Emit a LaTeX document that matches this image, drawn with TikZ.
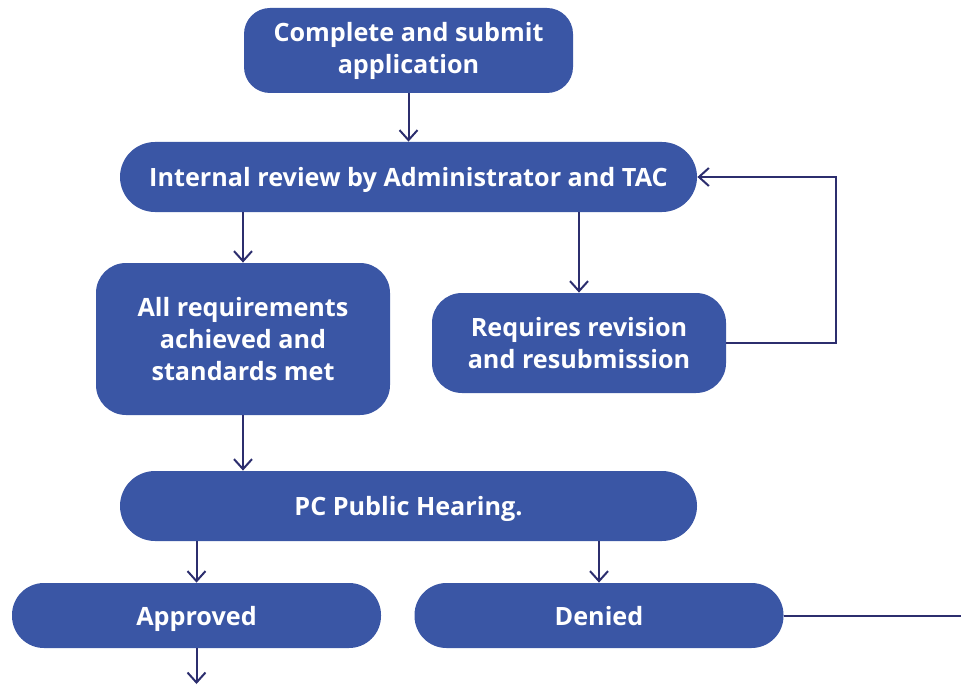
\documentclass[tikz,border=0pt]{standalone}
\usepackage{fontspec}
\setmainfont{Open Sans}
\usetikzlibrary{arrows.meta}
\definecolor{boxblue}{RGB}{58,86,165}
\definecolor{linenavy}{RGB}{44,46,110}
\tikzset{
  box/.style={fill=boxblue, text=white, font=\bfseries\fontsize{12.6}{16}\selectfont,
    align=center, inner sep=0pt},
  arr/.style={draw=linenavy, line width=1pt, -{Straight Barb[length=5pt,width=9pt]}},
  ln/.style={draw=linenavy, line width=1pt}
}
\begin{document}
\begin{tikzpicture}[x=0.5pt,y=-0.5pt]
  \useasboundingbox (0,0) rectangle (961,684);
  \node[box, minimum width=164.5pt, minimum height=42.5pt, rounded corners=13pt] (submit) at (408.5,50.5) {Complete and submit\\application};
  \node[box, minimum width=288.5pt, minimum height=35pt, rounded corners=17.5pt, text depth=0pt] (review) at (408.5,177) {Internal review by Administrator and TAC};
  \node[box, minimum width=147pt, minimum height=76pt, rounded corners=15pt] (met) at (243,339) {All requirements\\achieved and\\standards met};
  \node[box, minimum width=147pt, minimum height=50pt, rounded corners=15pt] (revise) at (579,343) {Requires revision\\and resubmission};
  \node[box, minimum width=288.5pt, minimum height=35pt, rounded corners=17.5pt, text depth=0pt] (hearing) at (408.5,506) {PC Public Hearing.};
  \node[box, minimum width=184.5pt, minimum height=32.5pt, rounded corners=16pt, text depth=0pt] (approved) at (196.5,615.5) {Approved};
  \node[box, minimum width=184.5pt, minimum height=32.5pt, rounded corners=16pt, text depth=0pt] (denied) at (599,615.5) {Denied};
  \coordinate (next) at (196.5,684);
  \coordinate (out) at (961,615.5);
  % connectors
  \draw[arr] (submit) -- (review);
  \draw[arr] (review.south -| met) -- (met);
  \draw[arr] (review.south -| revise) -- (revise);
  \draw[arr] (revise.east) -- ++(110,0) |- (review.east);
  \draw[arr] (met) -- (hearing.north -| met);
  \draw[arr] (hearing.south -| approved) -- (approved);
  \draw[arr] (hearing.south -| denied) -- (denied);
  \draw[arr] (approved) -- (next);
  \draw[ln] (denied) -- (out);
\end{tikzpicture}
\end{document}
